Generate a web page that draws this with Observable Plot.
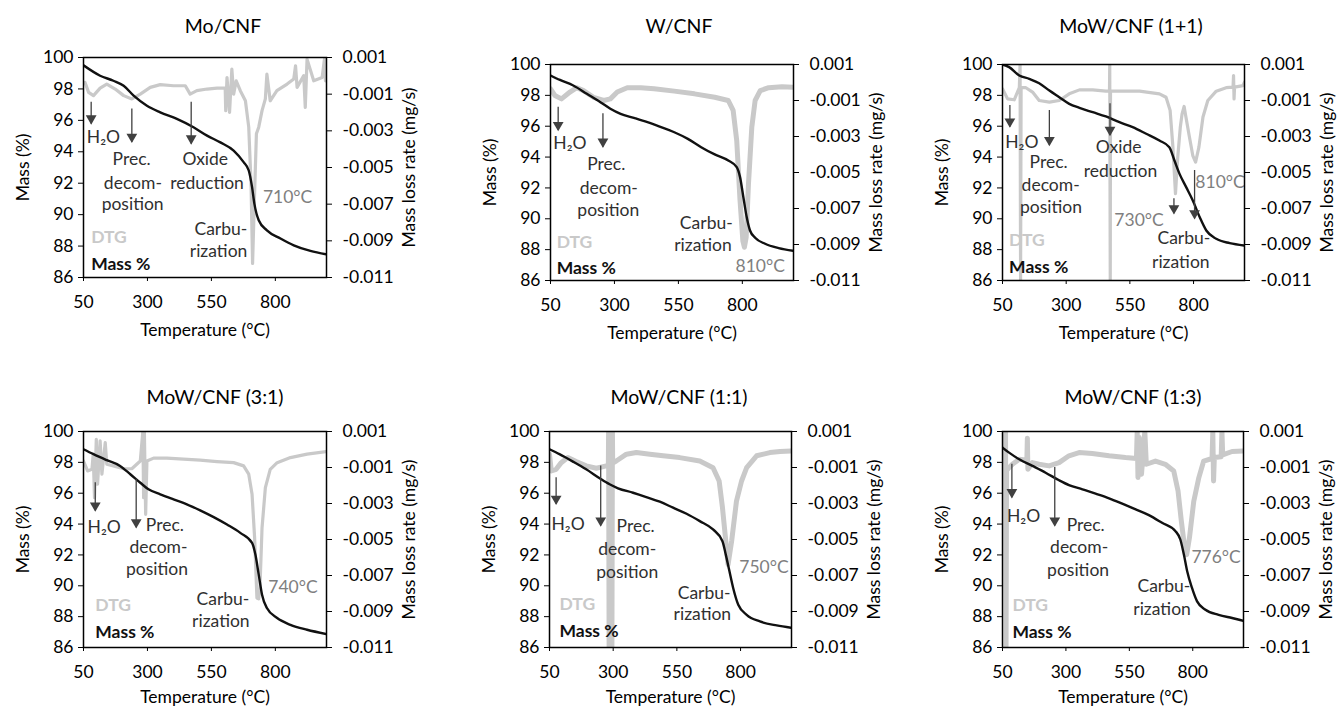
<!DOCTYPE html>
<html><head><meta charset="utf-8">
<script src="https://cdn.jsdelivr.net/npm/d3@7"></script>
<script src="https://cdn.jsdelivr.net/npm/@observablehq/plot@0.6"></script>
<style>
body{margin:0;background:#fff;font-family:Lato,"Open Sans",sans-serif}
#root{position:relative;width:1338px;height:708px;overflow:hidden}
.panel{position:absolute}
.title{position:absolute;font-size:19.5px;transform:translate(-50%,-50%);white-space:nowrap;color:#000;font-family:Lato,sans-serif}
</style></head><body><div id="root"></div>
<script>
// ---------- axes ----------
const xTicks = [50, 300, 550, 800];
const massTicks = [86, 88, 90, 92, 94, 96, 98, 100];
const dtgTicks = [-0.011, -0.009, -0.007, -0.005, -0.003, -0.001, 0.001];
const titles = ["Mo/CNF", "W/CNF", "MoW/CNF (1+1)", "MoW/CNF (3:1)", "MoW/CNF (1:1)", "MoW/CNF (1:3)"];

// ---------- Mo/CNF ----------
const moMass = [[50,99.5],[115,98.84],[167,98.52],[207,98.2],[246,97.57],[298,96.93],[350,96.51],[415,96.09],[480,95.56],[533,95.03],[585,94.6],[637,94.08],[676,93.34],[696,92.81],[709,91.75],[718,90.7],[735,89.64],[767,89.0],[820,88.48],[872,88.05],[937,87.69],[1000,87.47]];
const moDtg = [[50,-0.0004],[56,-0.00036],[70,-0.0009],[89,-0.00108],[115,-0.00067],[141,-0.00045],[174,-0.00072],[207,-0.00108],[239,-0.00126],[272,-0.001],[311,-0.00063],[350,-0.00048],[402,-0.00054],[448,-0.00054],[467,-0.001],[493,-0.00081],[533,-0.00072],[572,-0.00067],[604,-0.00067],[606,-0.0019],[611,-0.00009],[621,-0.00199],[630,0.00037],[637,-0.001],[647,-0.00027],[663,-0.00081],[683,-0.00136],[696,-0.0028],[705,-0.00589],[711,-0.01023],[718,-0.0068],[726,-0.00316],[735,-0.0028],[748,-0.0019],[761,-0.00126],[767,0.00009],[780,-0.00136],[806,-0.00081],[846,-0.00045],[872,-0.00017],[879,0.00055],[885,-0.00063],[911,0.00001],[917,-0.00172],[924,0.00091],[950,-0.00027],[983,-0.00009],[992,0.00091],[996,-0.00027],[1000,-0.0002]];
const moArrows = [{x:80,y1:97.15,y2:95.77},{x:239,y1:96.72,y2:94.6},{x:471,y1:97.15,y2:94.5}];
const moNotes = [
 {k:"n",text:"H₂O",x:128,y:94.92},{k:"n",text:"Prec.",x:238,y:93.49},{k:"n",text:"decom-",x:243,y:92.0},{k:"n",text:"position",x:242,y:90.65},
 {k:"n",text:"Oxide",x:526,y:93.49},{k:"n",text:"reduction",x:533,y:92.0},{k:"t",text:"710°C",x:848,y:91.12},
 {k:"n",text:"Carbu-",x:587,y:89.05},{k:"n",text:"rization",x:578,y:87.63},{k:"dtg",text:"DTG",x:80,y:88.54},{k:"mass",text:"Mass %",x:80,y:86.83}];

// ---------- W/CNF ----------
const wMass = [[50,99.29],[87,99.0],[139,98.64],[192,98.1],[245,97.56],[284,97.13],[324,96.8],[376,96.54],[429,96.26],[482,95.94],[534,95.61],[587,95.18],[639,94.64],[692,94.17],[745,93.78],[778,93.35],[791,92.7],[804,91.4],[817,90.11],[830,89.24],[850,88.77],[889,88.38],[942,88.1],[1000,87.92]];
const wDtg = [[50,-0.00035],[67,-0.00072],[93,-0.00091],[126,-0.00053],[153,-0.00029],[179,-0.00045],[218,-0.00082],[258,-0.001],[284,-0.00091],[311,-0.00053],[350,-0.00029],[403,-0.00029],[455,-0.00035],[534,-0.00048],[613,-0.00063],[692,-0.00082],[745,-0.001],[764,-0.00155],[778,-0.00322],[791,-0.00655],[802,-0.0088],[808,-0.00915],[815,-0.0086],[824,-0.00562],[837,-0.00248],[850,-0.001],[870,-0.00045],[903,-0.00029],[955,-0.00023],[1000,-0.00026]];
const wArrows = [{x:80,y1:97.23,y2:95.72},{x:255,y1:96.8,y2:94.64}];
const wNotes = [
 {k:"n",text:"H₂O",x:126,y:94.86},{k:"n",text:"Prec.",x:268,y:93.52},{k:"n",text:"decom-",x:278,y:91.94},{k:"n",text:"position",x:276,y:90.54},
 {k:"n",text:"Carbu-",x:659,y:89.72},{k:"n",text:"rization",x:646,y:88.27},{k:"t",text:"810°C",x:870,y:86.93},
 {k:"dtg",text:"DTG",x:74,y:88.44},{k:"mass",text:"Mass %",x:74,y:86.76}];

// ---------- MoW/CNF (1+1) ----------
const pMass = [[50,100.0],[76,99.83],[116,99.29],[155,99.07],[194,98.79],[234,98.31],[273,97.88],[312,97.45],[352,97.19],[404,96.91],[456,96.63],[509,96.26],[561,95.94],[614,95.51],[666,95.07],[705,94.64],[725,93.78],[745,92.91],[771,92.05],[797,91.19],[824,90.11],[850,89.24],[889,88.7],[942,88.42],[1000,88.27]];
const pDtg = [[50,-0.00035],[70,-0.00091],[96,-0.00096],[116,-0.00029],[119,0.001],[121,-0.011],[123,-0.00029],[142,-0.00029],[168,-0.00053],[194,-0.001],[234,-0.00109],[273,-0.001],[312,-0.00063],[352,-0.00041],[404,-0.00041],[456,-0.00048],[470,-0.00048],[471,0.001],[473,-0.011],[474,-0.00048],[509,-0.00048],[588,-0.00048],[666,-0.00063],[692,-0.00082],[708,-0.00155],[719,-0.00359],[729,-0.00618],[738,-0.00415],[748,-0.00248],[755,-0.00174],[763,-0.00133],[769,-0.00183],[784,-0.00304],[797,-0.00406],[808,-0.00442],[821,-0.00359],[837,-0.00192],[856,-0.001],[889,-0.00048],[928,-0.00029],[955,-0.00026],[957,0.00039],[959,-0.00091],[961,-0.00026],[994,-0.00017],[1000,0.00002]];
const pArrows = [{x:79,y1:97.34,y2:95.94},{x:234,y1:97.02,y2:94.75},{x:472,y1:97.45,y2:95.4},{x:723,y1:91.3,y2:90.32},{x:804,y1:93.13,y2:90.0}];
const pNotes = [
 {k:"n",text:"H₂O",x:126,y:94.97},{k:"n",text:"Prec.",x:231,y:93.67},{k:"n",text:"decom-",x:239,y:92.16},{k:"n",text:"position",x:240,y:90.75},
 {k:"n",text:"Oxide",x:506,y:94.6},{k:"n",text:"reduction",x:513,y:93.09},{k:"t",text:"730°C",x:586,y:89.89},{k:"t",text:"810°C",x:904,y:92.37},
 {k:"n",text:"Carbu-",x:762,y:88.7},{k:"n",text:"rization",x:750,y:87.19},{k:"dtg",text:"DTG",x:76,y:88.59},{k:"mass",text:"Mass %",x:76,y:86.87}];

// ---------- MoW/CNF (3:1) ----------
const aMass = [[50,98.85],[89,98.53],[141,98.14],[193,97.77],[233,97.23],[272,96.68],[304,96.25],[350,95.93],[402,95.6],[454,95.28],[506,94.89],[559,94.45],[611,93.97],[663,93.43],[709,92.78],[722,92.02],[735,90.72],[748,89.42],[767,88.56],[807,87.91],[859,87.47],[924,87.15],[1000,86.87]];
const aDtg = [[50,-0.00064],[66,-0.00119],[83,-0.0011],[88,-0.00026],[93,-0.00268],[100,0.00057],[105,-0.00193],[115,0.00048],[122,-0.00137],[135,0.00038],[141,-0.00082],[167,-0.00091],[207,-0.00107],[239,-0.00107],[272,-0.00064],[282,0.001],[285,-0.00268],[288,0.001],[293,-0.0036],[298,-0.00064],[324,-0.00048],[376,-0.00048],[441,-0.00054],[506,-0.00059],[572,-0.00067],[637,-0.00073],[676,-0.00091],[696,-0.00137],[709,-0.00249],[719,-0.00491],[728,-0.00825],[735,-0.0083],[740,-0.0076],[748,-0.00435],[761,-0.00212],[780,-0.0011],[807,-0.00073],[859,-0.00045],[924,-0.00026],[1000,-0.00011]];
const aArrows = [{x:96,y1:96.68,y2:94.84},{x:256,y1:96.9,y2:93.76}];
const aNotes = [
 {k:"n",text:"H₂O",x:131,y:93.76},{k:"n",text:"Prec.",x:368,y:93.93},{k:"n",text:"decom-",x:343,y:92.46},{k:"n",text:"position",x:337,y:91.05},
 {k:"t",text:"740°C",x:869,y:89.92},{k:"n",text:"Carbu-",x:595,y:89.1},{k:"n",text:"rization",x:587,y:87.69},
 {k:"dtg",text:"DTG",x:96,y:88.73},{k:"mass",text:"Mass %",x:96,y:87.0}];

// ---------- MoW/CNF (1:1) ----------
const bMass = [[50,98.85],[89,98.53],[142,98.05],[194,97.55],[247,96.97],[286,96.58],[319,96.32],[378,96.03],[430,95.75],[483,95.45],[535,95.06],[588,94.67],[640,94.19],[692,93.65],[729,92.89],[742,92.02],[755,91.05],[771,89.86],[791,88.77],[824,88.12],[876,87.69],[942,87.43],[1000,87.28]];
const bDtg = [[50,-0.00026],[57,-0.00119],[76,-0.0011],[96,-0.00073],[122,-0.00045],[155,-0.00067],[194,-0.00091],[234,-0.00104],[273,-0.00091],[281,-0.00091],[282,0.001],[284,-0.011],[285,-0.00091],[294,-0.0008],[295,-0.011],[297,0.001],[298,-0.00075],[312,-0.00064],[352,-0.00026],[391,-0.00017],[444,-0.00026],[496,-0.00035],[561,-0.00045],[640,-0.00064],[692,-0.00101],[716,-0.00175],[729,-0.00323],[742,-0.00509],[751,-0.00639],[765,-0.00509],[784,-0.00287],[804,-0.00175],[824,-0.00101],[863,-0.00035],[915,-0.00017],[955,-0.00011],[1000,-0.00008]];
const bArrows = [{x:76,y1:97.01,y2:95.28},{x:251,y1:97.77,y2:93.87}];
const bNotes = [
 {k:"n",text:"H₂O",x:123,y:93.97},{k:"n",text:"Prec.",x:388,y:93.87},{k:"n",text:"decom-",x:355,y:92.35},{k:"n",text:"position",x:355,y:90.9},
 {k:"t",text:"750°C",x:892,y:91.16},{k:"n",text:"Carbu-",x:657,y:89.53},{k:"n",text:"rization",x:650,y:88.12},
 {k:"dtg",text:"DTG",x:89,y:88.77},{k:"mass",text:"Mass %",x:89,y:87.04}];

// ---------- MoW/CNF (1:3) ----------
const cMass = [[50,98.96],[76,98.63],[116,98.2],[168,97.77],[220,97.33],[273,96.84],[312,96.53],[365,96.25],[417,95.97],[470,95.67],[522,95.32],[575,94.95],[627,94.58],[679,94.08],[732,93.54],[751,93.0],[765,92.02],[778,90.94],[797,89.86],[817,88.99],[850,88.45],[902,88.12],[955,87.91],[1000,87.73]];
const cDtg = [[50,-0.00064],[61,-0.00064],[62,0.001],[64,-0.011],[66,-0.0011],[70,-0.0011],[89,-0.00082],[116,-0.00054],[146,-0.0006],[148,0.00063],[150,-0.0011],[168,-0.00073],[194,-0.00082],[234,-0.00091],[273,-0.00073],[312,-0.00035],[352,-0.00017],[404,-0.00022],[470,-0.00035],[535,-0.00045],[578,-0.0005],[581,0.001],[584,-0.00156],[589,0.00067],[598,-0.00137],[611,0.001],[617,-0.00082],[653,-0.00064],[692,-0.00082],[725,-0.00119],[742,-0.00231],[755,-0.00398],[768,-0.00546],[776,-0.00584],[787,-0.0049],[804,-0.00287],[824,-0.00156],[843,-0.00064],[876,-0.0005],[879,0.001],[882,-0.00175],[885,-0.00045],[912,-0.0004],[915,0.001],[918,-0.0003],[955,-0.00011],[1000,-0.00008]];
const cArrows = [{x:87,y1:97.88,y2:95.71},{x:256,y1:97.66,y2:93.87}];
const cNotes = [
 {k:"n",text:"H₂O",x:133,y:94.52},{k:"n",text:"Prec.",x:378,y:93.91},{k:"n",text:"decom-",x:352,y:92.46},{k:"n",text:"position",x:348,y:91.01},
 {k:"t",text:"776°C",x:892,y:91.85},{k:"n",text:"Carbu-",x:686,y:89.97},{k:"n",text:"rization",x:679,y:88.45},
 {k:"dtg",text:"DTG",x:89,y:88.73},{k:"mass",text:"Mass %",x:89,y:87.0}];

// ---------- assembly ----------
const series = [
  {mass: moMass, dtg: moDtg, arrows: moArrows, notes: moNotes},
  {mass: wMass, dtg: wDtg, arrows: wArrows, notes: wNotes},
  {mass: pMass, dtg: pDtg, arrows: pArrows, notes: pNotes},
  {mass: aMass, dtg: aDtg, arrows: aArrows, notes: aNotes},
  {mass: bMass, dtg: bDtg, arrows: bArrows, notes: bNotes},
  {mass: cMass, dtg: cDtg, arrows: cArrows, notes: cNotes}
];
const layout = [
  {left:83, top:57, w:243, h:220, tx:223, ty:25, dw:3.2, xl:53},
  {left:550, top:64, w:243, h:216, tx:679, ty:25, dw:5, xl:53},
  {left:1002, top:64, w:242, h:216, tx:1131, ty:25, dw:3.2, xl:53},
  {left:83, top:431, w:243, h:216, tx:215, ty:396, dw:3.2, xl:50},
  {left:549, top:431, w:242, h:216, tx:679, ty:396, dw:5, xl:50},
  {left:1002, top:431, w:241, h:216, tx:1133, ty:396, dw:5, xl:50}
];
const toLeft = v => 86 + (v + 0.011) / 0.012 * 14;
const toRight = m => (m - 86) / 14 * 0.012 - 0.011;
const ML = 80, MR = 100, MT = 10, MB = 70;
const root = document.getElementById("root");
const DTG_COLOR = "#c9c9c9", NOTE = "#303030", TEMP = "#7f7f7f";

series.forEach((s, i) => {
  const L = layout[i];
  const notesBy = k => s.notes.filter(d => d.k === k);
  const svg = Plot.plot({
    width: L.w + ML + MR, height: L.h + MT + MB,
    marginLeft: ML, marginRight: MR, marginTop: MT, marginBottom: MB,
    x: {domain: [50, 1000]},
    y: {domain: [86, 100]},
    style: {fontFamily: "Lato, 'Open Sans', sans-serif", fontSize: "17.5px", color: "#000", background: "transparent", overflow: "visible"},
    marks: [
      Plot.line(s.dtg, {x: d => d[0], y: d => toLeft(d[1]), stroke: DTG_COLOR, strokeWidth: L.dw, strokeLinejoin: "round", clip: true}),
      Plot.line(s.mass, {x: d => d[0], y: d => d[1], stroke: "#111", strokeWidth: 2.4, curve: "monotone-x", clip: true}),
      Plot.ruleX(s.arrows, {x: "x", y1: "y1", y2: "y2", stroke: "#404040", strokeWidth: 1.3}),
      Plot.dot(s.arrows, {x: "x", y: "y2", symbol: "triangle", rotate: 180, r: 4, fill: "#404040", stroke: null, dy: -5.5}),
      Plot.text(notesBy("n"), {x: "x", y: "y", text: "text", fill: NOTE, fontSize: 17.5}),
      Plot.text(notesBy("t"), {x: "x", y: "y", text: "text", fill: TEMP, fontSize: 17.5}),
      Plot.text(notesBy("dtg"), {x: "x", y: "y", text: "text", fill: DTG_COLOR, fontSize: 17.5, fontWeight: "bold", textAnchor: "start"}),
      Plot.text(notesBy("mass"), {x: "x", y: "y", text: "text", fill: "#111", fontSize: 17.5, fontWeight: "bold", textAnchor: "start"}),
      Plot.axisX(xTicks, {tickSize: 4, tickPadding: 14, label: null, stroke: "#000"}),
      Plot.axisY(massTicks, {tickSize: 5, tickPadding: 5, label: null, stroke: "#000"}),
      Plot.axisY(dtgTicks.map(toLeft), {anchor: "right", tickSize: 5, tickPadding: 11, label: null, stroke: "#000",
        tickFormat: d => toRight(d).toFixed(3)}),
      Plot.frame({stroke: "#000", strokeWidth: 1.5}),
      Plot.text(["Temperature (°C)"], {frameAnchor: "bottom", dy: L.xl, textAnchor: "middle", lineAnchor: "middle", fontSize: 17.5}),
      Plot.text(["Mass (%)"], {frameAnchor: "left", dx: -60, rotate: -90, textAnchor: "middle", lineAnchor: "middle", fontSize: 17.5}),
      Plot.text(["Mass loss rate (mg/s)"], {frameAnchor: "right", dx: 83, rotate: -90, textAnchor: "middle", lineAnchor: "middle", fontSize: 17.5})
    ]
  });
  svg.classList.add("panel");
  svg.style.left = (L.left - ML) + "px";
  svg.style.top = (L.top - MT) + "px";
  root.appendChild(svg);
  const t = document.createElement("div");
  t.className = "title";
  t.textContent = titles[i];
  t.style.left = L.tx + "px";
  t.style.top = L.ty + "px";
  root.appendChild(t);
});
</script></body></html>
